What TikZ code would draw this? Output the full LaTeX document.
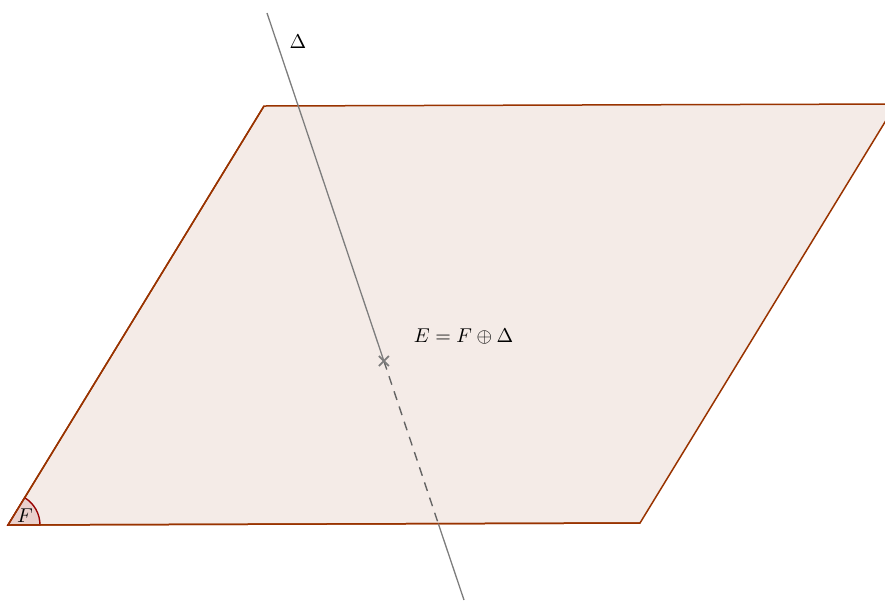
\documentclass[tikz,border=0pt]{standalone}
\usetikzlibrary{calc}
\definecolor{planefill}{RGB}{244,235,231}
\definecolor{planeedge}{RGB}{153,51,0}
\definecolor{angedge}{RGB}{153,0,0}
\definecolor{angfill}{RGB}{234,208,204}
\definecolor{linegray}{RGB}{125,125,125}
\tikzset{
  planestyle/.style={fill=planefill,draw=planeedge,line width=0.75pt,line join=miter},
  deltaline/.style={draw=linegray,line width=0.65pt},
  hiddenline/.style={draw=linegray!80!black,line width=0.7pt,dash pattern=on 4.5pt off 3.5pt},
  lbl/.style={inner sep=0pt,font=\fontsize{10}{12}\selectfont}
}
\begin{document}
\begin{tikzpicture}[x=0.5pt,y=-0.5pt]
\useasboundingbox (0,0) rectangle (885,601);
\clip (0,0) rectangle (885,601);
\coordinate (A) at (8,525);
\coordinate (B) at (264,106);
\coordinate (C) at (896,104);
\coordinate (D) at (640,523);
\coordinate (Ltop) at (267,13);
\coordinate (X) at (383.9,361);
\coordinate (Ledge) at (438.3,523.6);
\coordinate (Lbot) at (464,600);
\path[planestyle] (A) -- (B) -- (C) -- (D) -- cycle;
\path[fill=angfill,draw=angedge,line width=0.7pt] (A) -- ++(32,0) arc[start angle=0,end angle=-58.6,radius=32] -- cycle;
\draw[planeedge,line width=0.75pt] (A) -- (D);
\draw[planeedge,line width=0.75pt] (A) -- (B);
\draw[deltaline] (Ltop) -- (X);
\draw[hiddenline] (X) -- (Ledge);
\draw[deltaline] (Ledge) -- (Lbot);
\draw[linegray,line width=0.9pt] ($(X)+(-5,-5)$) -- ($(X)+(5,5)$);
\draw[linegray,line width=0.9pt] ($(X)+(-5,5)$) -- ($(X)+(5,-5)$);
\node[lbl] (delta) at (298,42) {$\Delta$};
\node[lbl] (eq) at (463.5,336) {$E=F\oplus\Delta$};
\node[lbl] (f) at (25,516) {$F$};
\end{tikzpicture}
\end{document}
